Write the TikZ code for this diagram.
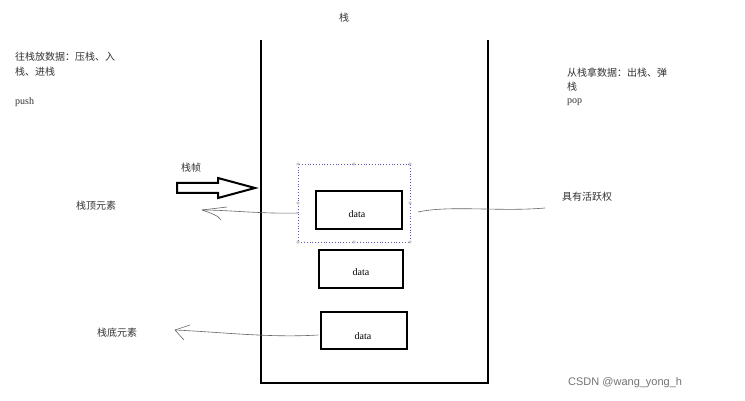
\documentclass[tikz,border=0pt]{standalone}
\usepackage{fontspec}
\setmainfont{Liberation Serif}
\newfontfamily\cjk{Noto Sans CJK SC}
\newfontfamily\sans{Liberation Sans}
\begin{document}
\begin{tikzpicture}[x=1pt,y=-1pt,
  txt/.style={font=\cjk\fontsize{10}{14}\selectfont,anchor=west,inner sep=0pt,text=black!80},
  lat/.style={font=\fontsize{10}{12}\selectfont,anchor=west,inner sep=0pt,text=black!80},
  box/.style={draw,line width=2pt,inner sep=0pt},
  dat/.style={font=\fontsize{10}{12}\selectfont,inner sep=0pt},
  ptr/.style={draw=black!60,line width=0.6pt},
  handle/.style={draw=black!40,fill=white,circle,inner sep=1pt}]
\fill[white] (0,0) rectangle (745,401);
\useasboundingbox (0,0) rectangle (745,401);
% stack walls
\draw[line width=2pt] (261,40) -- (261,383) -- (488,383) -- (488,40);
\node[txt,anchor=center] (title) at (344,18) {栈};
\node[txt] (l1) at (15,57) {往栈放数据：压栈、入};
\node[txt] (l2) at (15,72) {栈、进栈};
\node[lat] (push) at (15,102) {push};
\node[txt] (r1) at (567,73) {从栈拿数据：出栈、弹};
\node[txt] (r2) at (567,87) {栈};
\node[lat] (pop) at (567,102) {pop};
% boxes
\node[box,minimum width=86pt,minimum height=38pt] (b1) at (359,210) {};
\node[box,minimum width=84pt,minimum height=38pt] (b2) at (361,269) {};
\node[box,minimum width=86pt,minimum height=37pt] (b3) at (364,330.5) {};
\node[dat] (d1) at (357,214) {data};
\node[dat] (d2) at (361,272) {data};
\node[dat] (d3) at (363,336) {data};
% selection
\draw[draw=blue!30!gray,dotted,line width=0.8pt] (298,164) rectangle (410,242);
\foreach \p in {(298,164),(354,164),(410,164),(298,203),(410,203),(298,242),(354,242),(410,242)}
  \node[handle] at \p {};
% hollow arrow
\draw[line width=2pt,fill=white] (177,183) -- (218,183) -- (218,178) -- (255,188) -- (218,198) -- (218,193) -- (177,193) -- cycle;
\node[txt] (frame) at (181,168) {栈帧};
% top element
\node[txt] (top) at (76,206) {栈顶元素};
\coordinate (t1) at (298,213);
\coordinate (t2) at (202,210);
\draw[ptr] (t1) .. controls (260,214) and (230,210) .. (t2);
\draw[ptr] (t2) -- (227,207) (t2) .. controls (210,213) and (218,215) .. (221,220);
% active
\node[txt] (act) at (562,197) {具有活跃权};
\coordinate (a1) at (418,212);
\coordinate (a2) at (545,208);
\draw[ptr] (a1) .. controls (450,205) and (500,212) .. (a2);
% bottom
\node[txt] (bot) at (97,333) {栈底元素};
\coordinate (c1) at (318,335);
\coordinate (c2) at (175,330);
\draw[ptr] (c1) .. controls (270,338) and (220,332) .. (c2);
\draw[ptr] (c2) -- (190,325) (c2) -- (184,340);
\node[font=\sans\fontsize{11}{13}\selectfont,text=black!55,anchor=west,inner sep=0pt] (wm) at (568,383) {CSDN @wang\_yong\_h};
\end{tikzpicture}
\end{document}
